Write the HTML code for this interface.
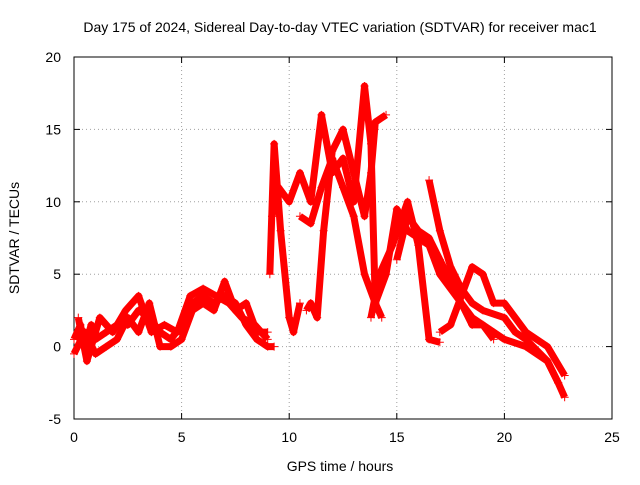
<!DOCTYPE html>
<html><head><meta charset="utf-8"><style>
body{margin:0;background:#fff;}
svg text{font-family:"Liberation Sans",sans-serif;font-size:14px;fill:#000;}
</style></head><body>
<svg id="chart" width="640" height="480" xmlns="http://www.w3.org/2000/svg">
<rect width="640" height="480" fill="#fff"/>
<text x="340" y="32" text-anchor="middle">Day 175 of 2024, Sidereal Day-to-day VTEC variation (SDTVAR) for receiver mac1</text>
<g id="grid"></g><g id="axes"></g><g id="series"></g>
<text x="340" y="471" text-anchor="middle">GPS time / hours</text>
<text transform="translate(19,238) rotate(-90)" text-anchor="middle">SDTVAR / TECUs</text>
</svg>
<script>
const xTicks=[0,5,10,15,20,25];
const yTicks=[-5,0,5,10,15,20];
const trackA_x=[0,0.3,0.5,0.8,1,1.5,2,2.5,3,3.5,4,4.5,5,5.5,6,6.5,7,7.5,8,8.5,9,9.3];
const trackA_y=[0.5,1.5,0,1.5,0.5,1,1.5,1.5,2.5,2,1,0.5,1.5,3,3.5,3,3.5,3,1.5,0.5,0,0];
const trackA2_x=[0,0.5,1,1.5,2,2.5,3,3.5,4,4.5,5,5.5,6,6.5,7,7.5,8,8.5,9];
const trackA2_y=[-0.5,1,-0.5,0,0.5,2,1,3,0,0,0.5,2.5,3,2.5,4.5,2.5,3,1,1];
const trackA3_x=[0.2,0.6,1.2,1.8,2.4,3,3.6,4.2,4.8,5.4,6,6.6,7.2,7.8,8.4,9];
const trackA3_y=[2,-1,2,1,2.5,3.5,1,1.5,1,3.5,4,3.5,3,2,1.5,0.5];
const trackB_x=[9.2,9.5,10,10.5,11,11.5,12,12.5,13,13.5,13.8,14,14.3];
const trackB_y=[9,11,10,12,10,16,12,13,10,18,14,3,2];
const trackC_x=[10.5,11,11.5,12,12.5,13,13.5,14,14.5,15,15.5,16,16.5,17,17.5,18,18.5,19,19.5,20,21,22,22.5,22.8];
const trackC_y=[9,8.5,11,13,11,9,5,3,5,9.5,8,7.5,7,5,4,3,2,1.5,1,0.5,0,-1,-2.5,-3.5];
const trackD_x=[13.8,14.2,14.8,15.5,16,16.5,17];
const trackD_y=[2,5,7,10,7,0.5,0.3];
const trackE_x=[15,15.5,16,16.5,17,17.5,18,18.5,19,19.5];
const trackE_y=[6,9,8,7.5,6,4.5,3,1.5,1.5,0.5];
const trackF_x=[16.5,17,17.5,18,18.5,19,20,20.5,21,22,22.5];
const trackF_y=[11.5,8,5.5,4,3,2.5,2,1,0.5,-1,-2.5];
const trackG_x=[17,17.5,18,18.5,19,19.5,20,20.5,21,22,22.8];
const trackG_y=[1,1.5,3.5,5.5,5,3,3,2,1,0,-2];
const trackH_x=[10.8,11,11.3,11.6,12,12.5,13,13.5,13.8,14,14.5];
const trackH_y=[2.5,3,2,8,13.5,15,12,9,12,15.5,16];
const trackI_x=[9.1,9.3,9.6,10,10.2,10.5];
const trackI_y=[5,14,8,2,1,3];
const tracks=[[trackA_x,trackA_y],[trackA2_x,trackA2_y],[trackA3_x,trackA3_y],[trackB_x,trackB_y],[trackC_x,trackC_y],[trackD_x,trackD_y],[trackE_x,trackE_y],[trackF_x,trackF_y],[trackG_x,trackG_y],[trackH_x,trackH_y],[trackI_x,trackI_y]];
const X0=74,X1=612,Y0=419,Y1=57;
function sx(v){return X0+(v-0)/25*(X1-X0);}
function sy(v){return Y0-(v+5)/25*(Y0-Y1);}
const NS="http://www.w3.org/2000/svg";
function mk(t,a,p){const e=document.createElementNS(NS,t);for(const k in a)e.setAttribute(k,a[k]);p.appendChild(e);return e;}
const grid=document.getElementById('grid'),axes=document.getElementById('axes'),ser=document.getElementById('series');
xTicks.forEach(t=>{
 if(t>0&&t<25){const g=mk('line',{x1:sx(t),x2:sx(t),y1:Y0,y2:Y1,stroke:'#a0a0a0','stroke-dasharray':'1,3'},grid);}
 mk('line',{x1:sx(t),x2:sx(t),y1:Y0,y2:Y0-6,stroke:'#000'},axes);
 mk('line',{x1:sx(t),x2:sx(t),y1:Y1,y2:Y1+6,stroke:'#000'},axes);
 const l=mk('text',{x:sx(t),y:Y0+23,'text-anchor':'middle'},axes);l.textContent=t;
 
 
});
yTicks.forEach(t=>{
 if(t>-5&&t<20){const g=mk('line',{x1:X0,x2:X1,y1:sy(t),y2:sy(t),stroke:'#a0a0a0','stroke-dasharray':'1,3'},grid);}
 mk('line',{x1:X0,x2:X0+6,y1:sy(t),y2:sy(t),stroke:'#000'},axes);
 mk('line',{x1:X1,x2:X1-6,y1:sy(t),y2:sy(t),stroke:'#000'},axes);
 const l=mk('text',{x:X0-13,y:sy(t)+5,'text-anchor':'end'},axes);l.textContent=t;
 
 
});
const fr=mk('rect',{x:X0,y:Y1,width:X1-X0,height:Y0-Y1,fill:'none',stroke:'#000'},axes);


tracks.forEach(([xs,ys])=>{
 const pts=xs.map((x,i)=>sx(x)+','+sy(ys[i])).join(' ');
 const pl=mk('polyline',{points:pts,fill:'none',stroke:'#f00','stroke-width':7,'stroke-linejoin':'round'},ser);
 
 
 xs.forEach((x,i)=>{
  const cx=sx(x),cy=sy(ys[i]);
  const p=mk('path',{d:`M${cx-4},${cy}H${cx+4}M${cx},${cy-4}V${cy+4}`,stroke:'#f00','stroke-width':1},ser);
  
  
 });
});
</script>
</body></html>
